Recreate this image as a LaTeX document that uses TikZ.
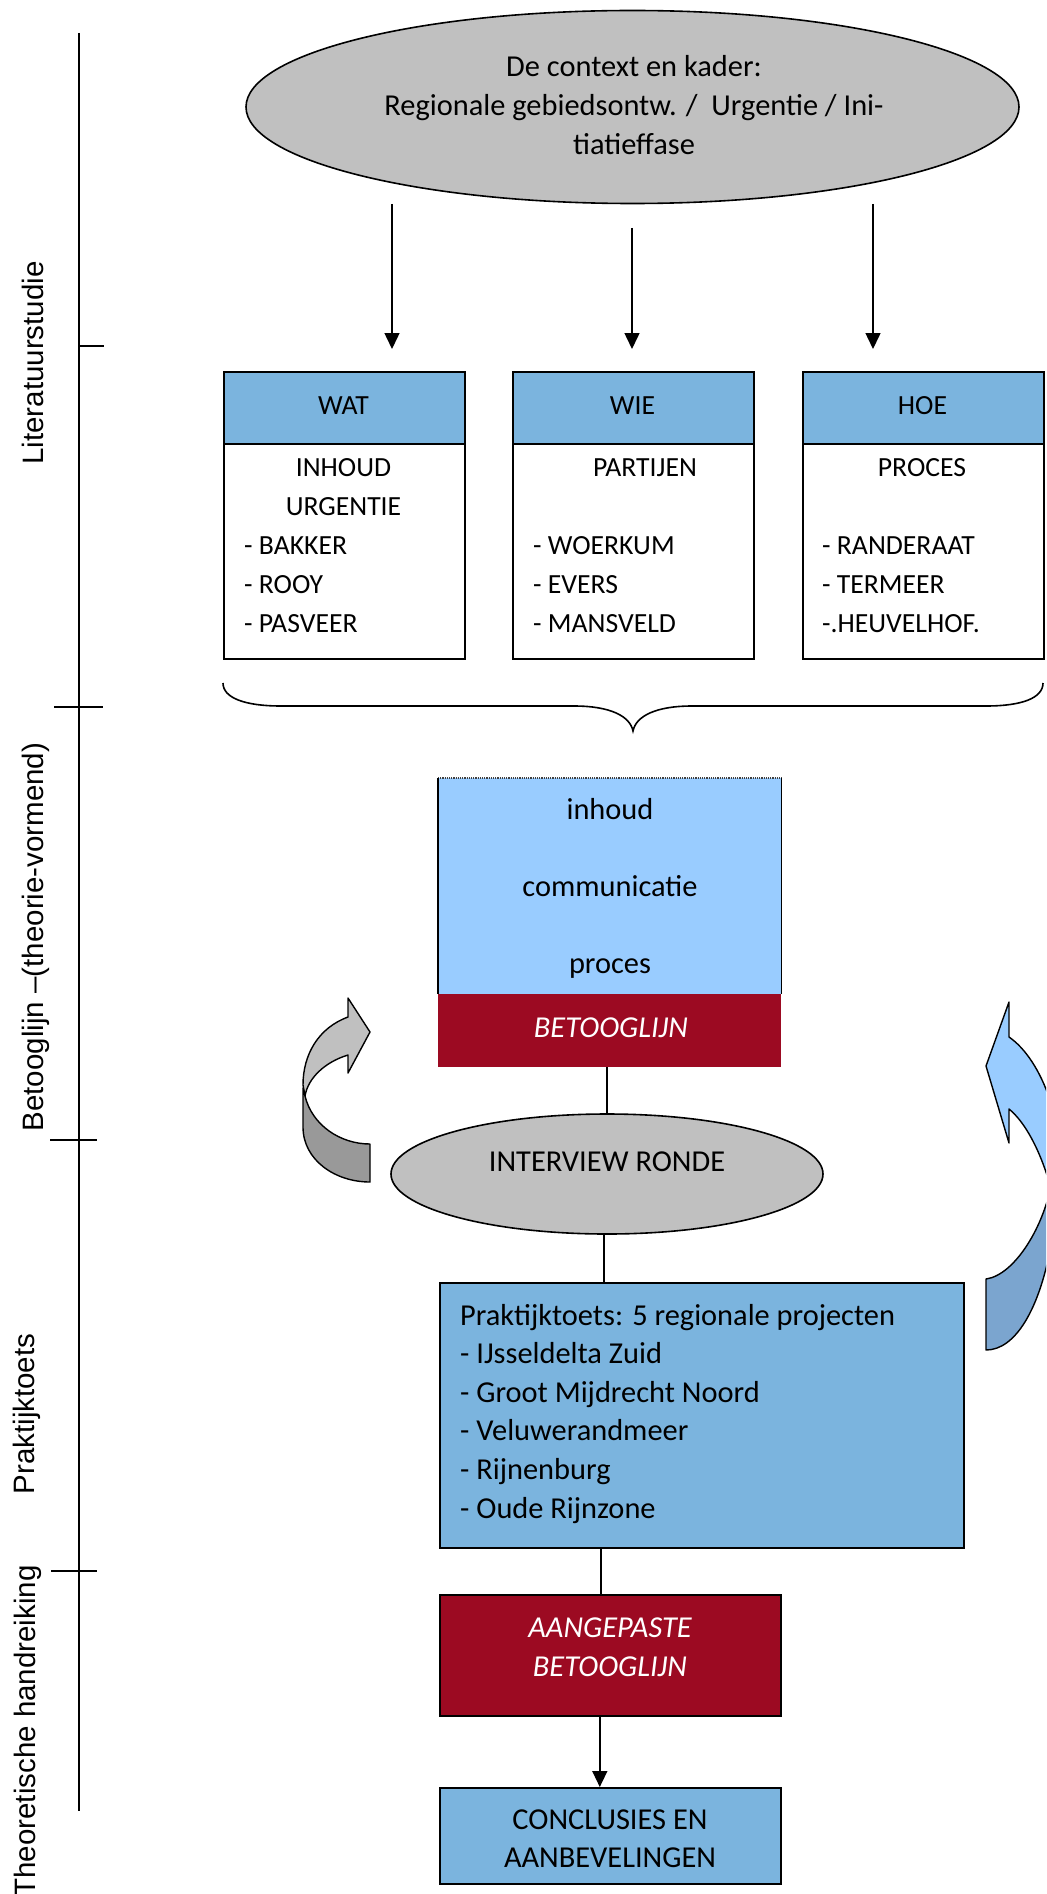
\documentclass[tikz,border=0pt]{standalone}
\usepackage{fontspec}
\setmainfont{Carlito}
\newfontfamily\arialfont{Liberation Sans}
\usetikzlibrary{shapes.geometric,arrows.meta,calc}

\definecolor{hdrblue}{RGB}{123,180,222}
\definecolor{paleblue}{RGB}{153,204,255}
\definecolor{wine}{RGB}{156,10,34}
\definecolor{ovalgray}{RGB}{192,192,192}
\definecolor{shadegray}{RGB}{153,153,153}
\definecolor{shadeblue}{RGB}{123,165,207}

\newcommand\fntmain{\fontsize{30.4}{38.5}\selectfont}
\newcommand\fntbox{\fontsize{27.7}{39}\selectfont}

\tikzset{
  frame/.style={draw=black, line width=1.6pt, rectangle, inner sep=0pt, anchor=north west},
  oval/.style={ellipse, draw=black, line width=1.6pt, fill=ovalgray, inner sep=0pt},
  txt/.style={inner sep=0pt, anchor=base, font=\fntmain},
  boxtxt/.style={inner sep=0pt, anchor=base, font=\fntbox},
  listtxt/.style={inner sep=0pt, anchor=base west, font=\fntbox},
  itemtxt/.style={inner sep=0pt, anchor=base west, font=\fntmain},
  redtxt/.style={txt, text=white, font=\fntmain\itshape},
  sidelbl/.style={inner sep=0pt, anchor=base, rotate=90, font=\arialfont\fontsize{29.5}{30}\selectfont},
  conn/.style={line width=1.5pt},
  arr/.style={conn, -{Triangle[length=16pt,width=15pt]}},
  axis/.style={line width=1.6pt},
  bandarrow/.style={draw=black, line width=1.4pt, line join=round}
}

\begin{document}
\begin{tikzpicture}[x=1pt,y=-1pt]
\useasboundingbox (0,0) rectangle (1046,1894);

% phase axis with ticks and labels
\coordinate (axtop) at (79,33);
\coordinate (axbot) at (79,1811);
\draw[axis] (axtop) -- (axbot);
\coordinate (t1a) at (79,346);  \coordinate (t1b) at (104,346);
\coordinate (t2a) at (54,707);  \coordinate (t2b) at (103,707);
\coordinate (t3a) at (50,1140); \coordinate (t3b) at (97,1140);
\coordinate (t4a) at (51,1571); \coordinate (t4b) at (97,1571);
\draw[axis] (t1a) -- (t1b);
\draw[axis] (t2a) -- (t2b);
\draw[axis] (t3a) -- (t3b);
\draw[axis] (t4a) -- (t4b);
\node[sidelbl] (lblA) at (43,363) {Literatuurstudie};
\node[sidelbl] (lblB) at (43,937) {Betooglijn –(theorie-vormend)};
\node[sidelbl] (lblC) at (34,1414) {Praktijktoets};
\node[sidelbl] (lblD) at (35,1731) {Theoretische handreiking};

% context ellipse
\node[oval, minimum width=773pt, minimum height=193pt] (ctx) at (632.5,107) {};
\node[txt] (ctx1) at (634,77) {De context en kader:};
\node[txt] (ctx2) at (634,116) {Regionale gebiedsontw. /\ \ Urgentie / Ini-};
\node[txt] (ctx3) at (634,155) {tiatieffase};

\coordinate (a1s) at (392,204); \coordinate (a1e) at (392,349);
\coordinate (a2s) at (632,228); \coordinate (a2e) at (632,349);
\coordinate (a3s) at (873,204); \coordinate (a3e) at (873,349);
\draw[arr] (a1s) -- (a1e);
\draw[arr] (a2s) -- (a2e);
\draw[arr] (a3s) -- (a3e);

% WAT / WIE / HOE
\node[frame, fill=hdrblue, minimum width=241pt, minimum height=72pt] (wat) at (223,371) {};
\node[frame, fill=white, minimum width=241pt, minimum height=215pt] (watb) at (223,443) {};
\node[frame, fill=hdrblue, minimum width=241pt, minimum height=72pt] (wie) at (512,371) {};
\node[frame, fill=white, minimum width=241pt, minimum height=215pt] (wieb) at (512,443) {};
\node[frame, fill=hdrblue, minimum width=241pt, minimum height=72pt] (hoe) at (802,371) {};
\node[frame, fill=white, minimum width=241pt, minimum height=215pt] (hoeb) at (802,443) {};

\node[boxtxt] (watt) at (343.5,414) {WAT};
\node[boxtxt] (wiet) at (632.5,414) {WIE};
\node[boxtxt] (hoet) at (922.5,414) {HOE};

\node[boxtxt] (wat1) at (343.5,476) {INHOUD};
\node[boxtxt] (wat2) at (343.5,515) {URGENTIE};
\node[listtxt] (wat3) at (244,554) {- BAKKER};
\node[listtxt] (wat4) at (244,593) {- ROOY};
\node[listtxt] (wat5) at (244,632) {- PASVEER};

\node[boxtxt] (wie1) at (645,476) {PARTIJEN};
\node[listtxt] (wie3) at (533,554) {- WOERKUM};
\node[listtxt] (wie4) at (533,593) {- EVERS};
\node[listtxt] (wie5) at (533,632) {- MANSVELD};

\node[boxtxt] (hoe1) at (922,476) {PROCES};
\node[listtxt] (hoe3) at (822,554) {- RANDERAAT};
\node[listtxt] (hoe4) at (822,593) {- TERMEER};
\node[listtxt] (hoe5) at (822,632) {-.HEUVELHOF.};

% brace under the three boxes
\draw[line width=1.6pt] (223,683) .. controls (223,698) and (245,706) .. (281,706)
  -- (574,706) .. controls (610,706) and (630,716) .. (633,731)
  .. controls (636,716) and (656,706) .. (692,706)
  -- (986,706) .. controls (1022,706) and (1043,698) .. (1043,683);

% betooglijn stack
\node[fill=paleblue, rectangle, inner sep=0pt, anchor=north west, minimum width=343pt, minimum height=216pt] (stack) at (438,778) {};
\draw[densely dotted, line width=1.2pt, black!75] (stack.north west) -- (stack.north east);
\draw[line width=1.6pt] (stack.north west) -- (stack.south west);
\draw[line width=1.6pt] (stack.north east) -- (stack.south east);
\node[fill=wine, rectangle, inner sep=0pt, anchor=north west, minimum width=343pt, minimum height=73pt] (betoog) at (438,994) {};
\node[txt] (st1) at (610,819) {inhoud};
\node[txt] (st2) at (610,896) {communicatie};
\node[txt] (st3) at (610,973) {proces};
\node[redtxt] (st4) at (611,1037) {BETOOGLIJN};

% interview round
\node[oval, minimum width=432pt, minimum height=120pt] (intv) at (607,1174) {};
\node[txt] (intvt) at (607,1171) {INTERVIEW RONDE};

% practice test
\node[frame, fill=hdrblue, minimum width=524pt, minimum height=265pt] (prak) at (439,1282) {};
\node[itemtxt] (pk0) at (460,1325) {Praktijktoets: 5 regionale projecten};
\node[itemtxt] (pk1) at (460,1363.6) {- IJsseldelta Zuid};
\node[itemtxt] (pk2) at (460,1402.2) {- Groot Mijdrecht Noord};
\node[itemtxt] (pk3) at (460,1440.8) {- Veluwerandmeer};
\node[itemtxt] (pk4) at (460,1479.4) {- Rijnenburg};
\node[itemtxt] (pk5) at (460,1518) {- Oude Rijnzone};

% adjusted line of argument
\node[frame, fill=wine, minimum width=341pt, minimum height=121pt] (aang) at (439,1594) {};
\node[redtxt] (ag1) at (610,1637) {AANGEPASTE};
\node[redtxt] (ag2) at (610,1676) {BETOOGLIJN};

% conclusions
\node[frame, fill=hdrblue, minimum width=341pt, minimum height=96pt] (concl) at (439,1787) {};
\node[txt] (cc1) at (610,1829) {CONCLUSIES EN};
\node[txt] (cc2) at (610,1867) {AANBEVELINGEN};

% connectors
\draw[conn] (intv.north) -- (intv.north |- betoog.south);
\draw[conn] ([xshift=-3pt]intv.south) -- ([xshift=-3pt]intv.south |- prak.north);
\draw[conn] ([xshift=-9.5pt]aang.north) -- ([xshift=-9.5pt]aang.north |- prak.south);
\draw[arr] ([xshift=-10.5pt]aang.south) -- ([xshift=-10.5pt]concl.north);

% grey feedback arrow on the left
\path[bandarrow, fill=ovalgray] (348,998) -- (370,1032) -- (348,1073) -- (348,1055)
  .. controls (325,1062) and (308,1078) .. (305,1096)
  -- (303,1085) .. controls (303,1055) and (318,1028) .. (348,1017) -- cycle;
\path[bandarrow, fill=shadegray] (303,1088) -- (303,1127)
  .. controls (303,1160) and (335,1182) .. (370,1182) -- (370,1144)
  .. controls (340,1144) and (312,1125) .. (305,1096) -- cycle;

% blue feedback arrow on the right, running off the page edge
\begin{scope}
\clip (0,0) rectangle (1046,1894);
\path[bandarrow, fill=paleblue] (1009,1002) -- (986,1066) -- (1009,1143) -- (1009,1109)
  .. controls (1025,1122) and (1040,1150) .. (1050,1185)
  -- (1090,1185) -- (1090,1100) -- (1050,1100)
  .. controls (1040,1070) and (1025,1048) .. (1009,1037) -- cycle;
\path[bandarrow, fill=shadeblue] (986,1279) -- (986,1350)
  .. controls (1015,1350) and (1040,1310) .. (1052,1240)
  -- (1090,1240) -- (1090,1180) -- (1052,1180)
  .. controls (1045,1225) and (1015,1275) .. (986,1279) -- cycle;
\end{scope}
\end{tikzpicture}
\end{document}
